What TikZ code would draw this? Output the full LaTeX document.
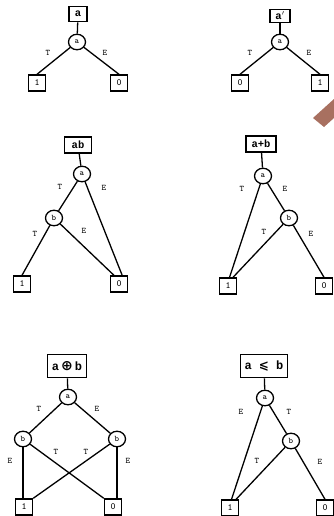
\documentclass[tikz,border=0pt]{standalone}
\usepackage{fontspec}
\setmonofont{Liberation Mono}
\newfontfamily\lmmono{Latin Modern Mono}
\newfontfamily\symfont{DejaVu Sans}
\usetikzlibrary{shapes.geometric}
\definecolor{brownish}{RGB}{168,112,96}
\tikzset{
  fnlabel/.style={draw,line width=1.6pt,inner sep=2.5pt,minimum height=15pt,font=\ttfamily\bfseries\fontsize{10.5}{10}\selectfont},
  fnbig/.style={fnlabel,minimum height=23pt,inner xsep=4pt,font=\ttfamily\bfseries\fontsize{12}{12}\selectfont},
  var/.style={draw,ellipse,line width=1.3pt,inner sep=0pt,minimum width=17pt,minimum height=15.5pt,font=\lmmono\fontsize{8.5}{8}\selectfont},
  leaf/.style={draw,line width=1.4pt,inner sep=0pt,minimum width=17pt,minimum height=16pt,font=\lmmono\fontsize{9.5}{9}\selectfont},
  edge/.style={line width=1.3pt},
  elab/.style={font=\lmmono\fontsize{8.5}{8}\selectfont,inner sep=0pt}
}
\begin{document}
\begin{tikzpicture}[x=1pt,y=-1pt]
\useasboundingbox (0,0) rectangle (334,516);
% brown fragment
\fill[brownish] (313,118) -- (334,99) -- (334,118) -- (324,127) -- cycle;
% Panel 1
\node[fnlabel,minimum width=18pt] (f1) at (78,14) {a};
\node[var] (a1) at (77,42) {a};
\node[leaf] (p1one) at (37,83) {1};
\node[leaf] (p1zero) at (119,83) {0};
\draw[edge] (f1) -- (a1);
\draw[edge] (a1) -- (p1one.north);
\draw[edge] (a1) -- (p1zero.north);
\node[elab] (t1) at (48,53) {T};
\node[elab] (e1) at (105,53) {E};
% Panel 2
\node[fnlabel,minimum width=20pt,minimum height=13pt] (f2) at (280,16) {a$'$};
\node[var] (a2) at (280,42) {a};
\node[leaf] (p2zero) at (240,83) {0};
\node[leaf] (p2one) at (320,83) {1};
\draw[edge] (f2) -- (a2);
\draw[edge] (a2) -- (p2zero.north);
\draw[edge] (a2) -- (p2one.north);
\node[elab] (t2) at (250,53) {T};
\node[elab] (e2) at (309,53) {E};
% Panel 3
\node[fnlabel,minimum width=27pt,minimum height=16pt] (f3) at (78,145) {ab};
\node[var] (a3) at (82,174) {a};
\node[var] (b3) at (54,218) {b};
\node[leaf] (p3one) at (22,284) {1};
\node[leaf] (p3zero) at (119,284) {0};
\draw[edge] (f3) -- (a3);
\draw[edge] (a3) -- (b3);
\draw[edge] (a3) -- (p3zero.70);
\draw[edge] (b3) -- (p3one.north);
\draw[edge] (b3) -- (p3zero.120);
\node[elab] (t3a) at (60,187) {T};
\node[elab] (e3a) at (104,188) {E};
\node[elab] (t3b) at (35,234) {T};
\node[elab] (e3b) at (84,231) {E};
% Panel 4
\node[fnlabel,minimum width=30pt,minimum height=16pt] (f4) at (261,144) {a+b};
\node[var] (a4) at (263,176) {a};
\node[var] (b4) at (289,218) {b};
\node[leaf] (p4one) at (228,286) {1};
\node[leaf] (p4zero) at (324,286) {0};
\draw[edge] (f4) -- (a4);
\draw[edge] (a4) -- (b4);
\draw[edge] (a4) -- (p4one.80);
\draw[edge] (b4) -- (p4one.60);
\draw[edge] (b4) -- (p4zero.north);
\node[elab] (t4a) at (242,189) {T};
\node[elab] (e4a) at (285,189) {E};
\node[elab] (t4b) at (264,232) {T};
\node[elab] (e4b) at (311,234) {E};
% Panel 5
\node[fnbig,minimum width=39pt,inner xsep=2pt] (f5) at (67,366) {a\,{\symfont\bfseries\fontsize{14}{14}\selectfont ⊕}\,b};
\node[var] (a5) at (68,397) {a};
\node[var] (bl5) at (23,439) {b};
\node[var] (br5) at (117,439) {b};
\node[leaf] (p5one) at (24,507) {1};
\node[leaf] (p5zero) at (113,507) {0};
\draw[edge] (f5) -- (a5);
\draw[edge] (a5) -- (bl5);
\draw[edge] (a5) -- (br5);
\draw[edge] (bl5) -- (bl5 |- p5one.north);
\draw[edge] (bl5) -- (p5zero.north west);
\draw[edge] (br5) -- (p5one.north east);
\draw[edge] (br5) -- (br5 |- p5zero.north);
\node[elab] (t5a) at (39,409) {T};
\node[elab] (e5a) at (97,409) {E};
\node[elab] (e5l) at (10,461) {E};
\node[elab] (t5l) at (56,452) {T};
\node[elab] (t5r) at (86,452) {T};
\node[elab] (e5r) at (128,461) {E};
% Panel 6
\node[fnbig,minimum width=44pt] (f6) at (264,366) {a {\symfont\bfseries ⩽} b};
\node[var] (a6) at (265,398) {a};
\node[var] (b6) at (291,441) {b};
\node[leaf] (p6one) at (230,508) {1};
\node[leaf] (p6zero) at (325,508) {0};
\draw[edge] (f6) -- (a6);
\draw[edge] (a6) -- (b6);
\draw[edge] (a6) -- (p6one.80);
\draw[edge] (b6) -- (p6one.55);
\draw[edge] (b6) -- (p6zero.north);
\node[elab] (e6a) at (241,412) {E};
\node[elab] (t6a) at (289,412) {T};
\node[elab] (t6b) at (257,461) {T};
\node[elab] (e6b) at (320,462) {E};
\end{tikzpicture}
\end{document}
